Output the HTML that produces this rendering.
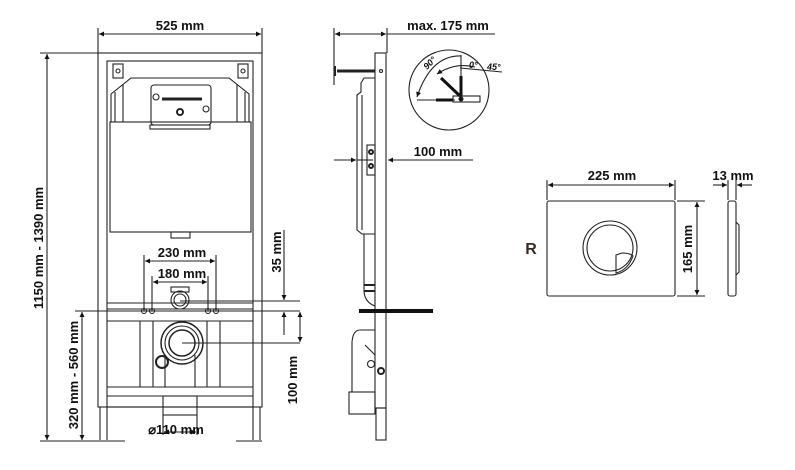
<!DOCTYPE html>
<html><head><meta charset="utf-8"><style>
html,body{margin:0;padding:0;background:#fff;}
svg{display:block;}
text{font-family:"Liberation Sans",Arial,sans-serif;font-weight:bold;fill:#111;}
</style></head><body>
<svg width="795" height="470" viewBox="0 0 795 470" xmlns="http://www.w3.org/2000/svg">
<defs>
<marker id="a" viewBox="0 0 10 10" refX="10" refY="5" markerWidth="9" markerHeight="5" orient="auto-start-reverse" markerUnits="userSpaceOnUse"><path d="M0,0 L10,5 L0,10 z" fill="#111"/></marker>
</defs>
<g stroke="#222" stroke-width="1.1" fill="none">
<!-- FRONT VIEW -->
<line x1="98" y1="28" x2="98" y2="53"/><line x1="262" y1="28" x2="262" y2="53"/>
<line x1="99" y1="34" x2="261" y2="34" marker-start="url(#a)" marker-end="url(#a)"/>
<rect x="98" y="53" width="164" height="354"/>
<rect x="107" y="61" width="146" height="346"/>
<line x1="100" y1="407" x2="100" y2="440"/><line x1="107" y1="407" x2="107" y2="440"/>
<line x1="253" y1="407" x2="253" y2="440"/><line x1="260" y1="407" x2="260" y2="440"/>
<line x1="90" y1="441" x2="125" y2="441"/><line x1="236" y1="441" x2="262" y2="441"/>
<path d="M111 94 L131 78 L229 78 L249 94 L249 122"/>
<path d="M111 94 L111 122"/>
<line x1="115" y1="92" x2="115" y2="122"/><line x1="245" y1="92" x2="245" y2="122"/>
<line x1="123" y1="84" x2="123" y2="122"/><line x1="237" y1="84" x2="237" y2="122"/>
<rect x="110" y="122" width="141" height="110"/>
<rect x="151" y="85" width="60" height="40" rx="3"/>
<line x1="162" y1="99" x2="202" y2="99" stroke-width="3"/>
<circle cx="156" cy="97" r="3"/><circle cx="206" cy="109" r="3"/>
<circle cx="180" cy="112" r="3" stroke-width="2"/>
<rect x="150" y="125" width="60" height="4"/>
<rect x="113" y="64" width="10" height="14"/><rect x="238" y="64" width="10" height="14"/>
<circle cx="118" cy="71" r="2"/><circle cx="243" cy="71" r="2"/>
<rect x="171" y="232" width="19" height="6"/>
<line x1="107" y1="303" x2="253" y2="303"/><line x1="107" y1="309" x2="253" y2="309"/>
<line x1="107" y1="321" x2="253" y2="321"/>
<line x1="107" y1="387" x2="253" y2="387"/><line x1="107" y1="396" x2="253" y2="396"/>
<line x1="140" y1="321" x2="140" y2="387"/><line x1="153" y1="321" x2="153" y2="387"/>
<line x1="207" y1="321" x2="207" y2="387"/><line x1="220" y1="321" x2="220" y2="387"/>
<line x1="165" y1="355" x2="165" y2="387"/><line x1="195" y1="355" x2="195" y2="387"/>
<circle cx="180" cy="300" r="9"/><circle cx="180" cy="300" r="6"/>
<rect x="171" y="287" width="18" height="5"/>
<circle cx="182" cy="343" r="21" stroke-width="1.5"/><circle cx="182" cy="343" r="17"/><circle cx="182" cy="343" r="13" stroke-width="1.5"/>
<circle cx="162" cy="362" r="6" stroke-width="2"/>
<circle cx="144" cy="311" r="2.5"/><circle cx="152" cy="311" r="2.5"/><circle cx="208" cy="311" r="2.5"/><circle cx="216" cy="311" r="2.5"/>
<rect x="163" y="396" width="34" height="19"/>
<line x1="144" y1="255" x2="144" y2="311"/><line x1="216" y1="255" x2="216" y2="311"/>
<line x1="152" y1="276" x2="152" y2="311"/><line x1="208" y1="276" x2="208" y2="311"/>
<line x1="145" y1="261" x2="215" y2="261" marker-start="url(#a)" marker-end="url(#a)"/>
<line x1="153" y1="282" x2="207" y2="282" marker-start="url(#a)" marker-end="url(#a)"/>
<line x1="180" y1="301" x2="300" y2="301"/><line x1="75" y1="311" x2="300" y2="311"/>
<line x1="182" y1="343" x2="300" y2="343"/>
<line x1="284" y1="230" x2="284" y2="300" marker-end="url(#a)"/>
<line x1="284" y1="312" x2="284" y2="335" marker-start="url(#a)"/>
<line x1="300" y1="312" x2="300" y2="342" marker-start="url(#a)" marker-end="url(#a)"/>
<line x1="163" y1="415" x2="163" y2="435"/><line x1="197" y1="415" x2="197" y2="435"/>
<line x1="164" y1="432" x2="196" y2="432" marker-start="url(#a)" marker-end="url(#a)"/>
<line x1="40" y1="53" x2="98" y2="53"/>
<line x1="47" y1="54" x2="47" y2="440" marker-start="url(#a)" marker-end="url(#a)"/>
<line x1="40" y1="441" x2="100" y2="441"/>
<line x1="82" y1="312" x2="82" y2="440" marker-start="url(#a)" marker-end="url(#a)"/>

<!-- SIDE VIEW -->
<line x1="334" y1="28" x2="334" y2="85"/><line x1="387" y1="28" x2="387" y2="53"/>
<line x1="335" y1="34" x2="386" y2="34" marker-start="url(#a)" marker-end="url(#a)"/>
<line x1="387" y1="34" x2="495" y2="34"/>
<rect x="375" y="53" width="11" height="355"/>
<rect x="376" y="408" width="10" height="32"/>
<line x1="337" y1="71" x2="375" y2="71" stroke-width="3"/>
<line x1="335" y1="66" x2="335" y2="76" stroke-width="2"/>
<circle cx="381" cy="71" r="1.5"/>
<path d="M375 78 L364 78 L361 83 L361 92 L357 95 L357 230 L362 234 L375 234"/>
<line x1="362" y1="95" x2="362" y2="230"/>
<rect x="367" y="145" width="8" height="30"/>
<circle cx="371" cy="152" r="2" stroke-width="2"/><circle cx="371" cy="166" r="2" stroke-width="2"/>
<path d="M364 234 L364 290 Q364 302 375 306"/>
<line x1="364" y1="285" x2="375" y2="285" stroke-width="2"/><line x1="364" y1="291" x2="375" y2="291" stroke-width="2"/>
<path d="M375 330 L360 330 Q353 330 352 342 L352 392 L375 392"/>
<line x1="365" y1="345" x2="375" y2="355"/>
<circle cx="371" cy="364" r="3.5"/><circle cx="381" cy="371" r="3" stroke-width="2"/>
<rect x="349" y="392" width="26" height="22"/>
<line x1="359" y1="311" x2="433" y2="311" stroke="#111" stroke-width="4"/>
<line x1="334" y1="160" x2="356" y2="160" marker-end="url(#a)"/>
<line x1="357" y1="160" x2="373" y2="160"/>
<line x1="410" y1="160" x2="473" y2="160"/>
<line x1="410" y1="160" x2="388" y2="160" marker-end="url(#a)"/>
<circle cx="449" cy="90" r="40"/>
<path d="M461 56 Q431 55 417 97" marker-end="url(#a)"/>
<line x1="417" y1="100" x2="455" y2="100"/>
<line x1="460" y1="68" x2="502" y2="72"/>
<path d="M475 67 Q455 62 437 74" marker-end="url(#a)"/>
<line x1="461" y1="55" x2="461" y2="96"/>
<line x1="441" y1="78" x2="460" y2="96" stroke="#111" stroke-width="3"/>
<line x1="461" y1="76" x2="461" y2="98" stroke="#111" stroke-width="3"/>
<line x1="436" y1="100" x2="453" y2="100" stroke="#111" stroke-width="3"/>
<rect x="453" y="96" width="27" height="6"/>
<circle cx="461" cy="99" r="2" fill="#111"/>

<!-- PLATE -->
<line x1="547" y1="180" x2="547" y2="200"/><line x1="675" y1="180" x2="675" y2="200"/>
<line x1="548" y1="185" x2="674" y2="185" marker-start="url(#a)" marker-end="url(#a)"/>
<rect x="547" y="201" width="128" height="95" rx="2"/>
<circle cx="610" cy="248" r="27"/><circle cx="610" cy="248" r="23"/>
<path d="M616 255 L616 273 Q628 270 633 256 Q630 253 622 253 Z"/>
<line x1="677" y1="201" x2="705" y2="201"/><line x1="677" y1="296" x2="705" y2="296"/>
<line x1="697" y1="202" x2="697" y2="295" marker-start="url(#a)" marker-end="url(#a)"/>
<rect x="728" y="201" width="8" height="95" rx="2"/>
<path d="M736 222 L739 225 L739 272 L736 275"/>
<line x1="728" y1="180" x2="728" y2="200"/><line x1="736" y1="180" x2="736" y2="200"/>
<line x1="713" y1="185" x2="727" y2="185" marker-end="url(#a)"/>
<line x1="752" y1="185" x2="737" y2="185" marker-end="url(#a)"/>
</g>
<text x="180" y="30" font-size="13" text-anchor="middle">525 mm</text>
<text x="182" y="257" font-size="13" text-anchor="middle">230 mm</text>
<text x="182" y="278" font-size="13" text-anchor="middle">180 mm</text>
<text x="176" y="434" font-size="13" text-anchor="middle" font-weight="normal">⌀110 mm</text>
<text transform="translate(43,248) rotate(-90)" font-size="13" text-anchor="middle">1150 mm - 1390 mm</text>
<text transform="translate(78,375) rotate(-90)" font-size="13" text-anchor="middle">320 mm - 560 mm</text>
<text transform="translate(281,252) rotate(-90)" font-size="13" text-anchor="middle">35 mm</text>
<text transform="translate(297,380) rotate(-90)" font-size="13" text-anchor="middle">100 mm</text>
<text x="448" y="30" font-size="13" text-anchor="middle">max. 175 mm</text>
<text x="438" y="156" font-size="13" text-anchor="middle">100 mm</text>
<text transform="translate(427,70) rotate(-45)" font-size="9" font-weight="normal" font-style="italic">90°</text>
<text x="469" y="68" font-size="9" font-weight="normal" font-style="italic">0°</text>
<text x="487" y="70" font-size="9" font-weight="normal" font-style="italic">45°</text>
<text x="612" y="180" font-size="13" text-anchor="middle">225 mm</text>
<text x="733" y="180" font-size="13" text-anchor="middle">13 mm</text>
<text transform="translate(692,249) rotate(-90)" font-size="13" text-anchor="middle">165 mm</text>
<text x="531" y="254" font-size="16" text-anchor="middle" style="fill:#3a2a20">R</text>
</svg>
</body></html>
